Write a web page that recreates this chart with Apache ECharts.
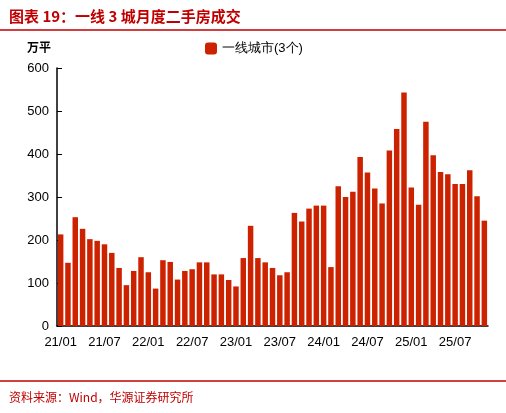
<!DOCTYPE html><html><head><meta charset="utf-8"><script src="https://cdn.jsdelivr.net/npm/echarts@6/dist/echarts.min.js"></script>
<style>body{margin:0}#c{width:506px;height:413px}</style></head><body><div id="c"></div><script>
const values=[213,147,253,226,202,198,190,170,135,95,128,160,125,87,153,149,108,128,132,148,148,120,120,107,92,158,233,158,148,135,118,125,263,243,273,280,280,137,325,300,312,393,357,320,285,408,458,543,322,282,475,397,358,353,330,330,362,302,245];
const categories=[];
for(let i=0;i<values.length;i++){const y=21+Math.floor(i/12),m=i%12+1;categories.push(y+'/'+(m<10?'0':'')+m);}
const yTicks=[0,100,200,300,400,500,600];
const c=echarts.init(document.getElementById('c'));
const F='"Liberation Sans",Arial,sans-serif';
c.setOption({
 title:[{text:'图表 19：一线 3 城月度二手房成交',left:4,top:4,textStyle:{color:'#c00000',fontSize:15,fontWeight:'bold',fontFamily:'"Noto Sans CJK SC"'}},
  {text:'资料来源：Wind，华源证券研究所',left:4,top:386,textStyle:{color:'#c00000',fontSize:12,fontWeight:'normal',fontFamily:'"Noto Sans CJK SC"'}},
  {text:'万平',left:22,top:36,textStyle:{color:'#000',fontSize:12,fontWeight:'bold',fontFamily:'"Noto Sans CJK SC"'}}],
 graphic:[{type:'line',shape:{x1:0,y1:30,x2:506,y2:30},style:{stroke:'#c00000',lineWidth:1.5}},
  {type:'line',shape:{x1:0,y1:381,x2:506,y2:381},style:{stroke:'#c00000',lineWidth:1.5}}],
 legend:{top:37,left:200,itemWidth:12,itemHeight:12,textStyle:{fontSize:13,fontFamily:F,color:'#000'},data:['一线城市(3个)']},
 grid:{left:57,right:18,top:68,bottom:87},
 xAxis:{type:'category',data:categories,axisLine:{lineStyle:{color:'#000',width:1.5}},axisTick:{interval:0,lineStyle:{color:'#000'},length:6},
  axisLabel:{interval:5,color:'#000',fontSize:13,fontFamily:F,margin:10}},
 yAxis:{type:'value',min:0,max:600,interval:100,splitLine:{show:false},axisLine:{show:true,lineStyle:{color:'#000',width:1.5}},
  axisTick:{show:true,inside:true,length:5,lineStyle:{color:'#000'}},axisLabel:{color:'#000',fontSize:13,fontFamily:F,formatter:v=>yTicks.includes(v)?v:''}},
 series:[{name:'一线城市(3个)',type:'bar',data:values,barCategoryGap:'25%',itemStyle:{color:'#cc2200'}}]
});
</script></body></html>
